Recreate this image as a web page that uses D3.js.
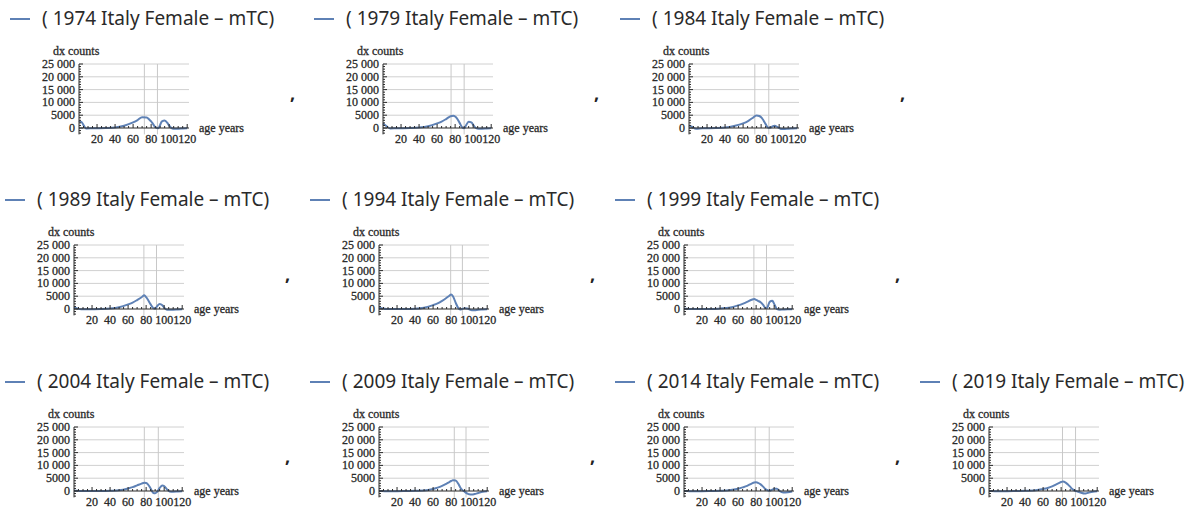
<!DOCTYPE html>
<html>
<head>
<meta charset="utf-8">
<script src="https://cdn.jsdelivr.net/npm/d3@7"></script>
<style>
  body { margin: 0; background: #fff; }
  svg { display: block; }
  .lab { stroke: #333; stroke-width: 0.3px; }
</style>
</head>
<body>
<svg id="chart" width="1190" height="510"></svg>
<script>
// ages shared by every series
const ages = [0, 3, 8, 15, 30, 40, 50, 60, 65, 70, 75, 78, 80, 82, 85, 88, 90, 92, 95, 98, 100, 103, 106, 110, 115, 120];

const years = [1974, 1979, 1984, 1989, 1994, 1999, 2004, 2009, 2014, 2019];

const dx1974 = [2800, 2200, -200, -100, 0, 200, 900, 2200, 3100, 4200, 4100, 3300, 2600, 1600, 200, -100, 1200, 2600, 2900, 2000, 900, -100, -300, -300, -200, -100];
const dx1979 = [1800, 1000, -200, -100, 0, 200, 700, 1800, 2500, 3500, 4600, 4800, 4500, 3800, 2000, 200, -100, 1000, 2400, 2200, 1200, 0, -300, -300, -200, -100];
const dx1984 = [1000, 500, -300, -100, 0, 200, 800, 1800, 2600, 3800, 4900, 4700, 4200, 3300, 1500, 100, 100, 500, 900, 400, 0, -400, -400, -300, -200, -100];
const dx1989 = [600, 300, -100, -100, 0, 200, 700, 1800, 2500, 3500, 4600, 5400, 4600, 3600, 1800, 300, 100, 1000, 2000, 1500, 500, -300, -300, -300, -200, -100];
const dx1994 = [500, 300, 0, 0, 0, 100, 500, 1500, 2200, 3200, 4400, 5200, 5700, 5000, 2500, 300, -200, 0, 300, 200, -100, -500, -500, -300, -200, -100];
const dx1999 = [200, 100, 0, 0, 0, 200, 500, 1400, 2000, 2800, 3600, 3900, 3600, 3200, 2600, 1500, 500, 400, 2800, 3200, 2000, 0, -300, -200, -100, -100];
const dx2004 = [200, 100, 0, 0, 0, 100, 300, 1000, 1500, 2200, 2900, 3200, 3100, 2600, 1000, -800, -900, -400, 1200, 2100, 1900, 700, -200, -300, -200, -100];
const dx2009 = [100, 0, -100, -100, 0, 100, 200, 800, 1300, 2000, 2900, 3500, 3900, 4200, 4100, 2800, 1500, 500, -300, -1000, -1300, -1400, -1200, -800, -300, -100];
const dx2014 = [100, 0, -100, -100, 0, 100, 300, 900, 1400, 2000, 2900, 3300, 3400, 3200, 2600, 1600, 900, 400, 100, 500, 900, 900, 0, -600, -500, -200];
const dx2019 = [100, 0, -100, -100, 0, 100, 200, 800, 1200, 1800, 2700, 3200, 3500, 3700, 3300, 2400, 1700, 900, 200, -200, -400, -800, -1000, -700, -300, -100];

const series = [dx1974, dx1979, dx1984, dx1989, dx1994, dx1999, dx2004, dx2009, dx2014, dx2019];

// the two vertical grid lines drawn in each panel (ages)
const gridA = [72.5, 75.5, 73, 77.5, 79.5, 77.5, 78, 83.5, 79, 81.5];
const gridB = [87, 90, 88.5, 91.5, 92.5, 91.5, 93.5, 96.5, 94.5, 96];

const yTicks = [0, 5000, 10000, 15000, 20000, 25000];
const xTicks = [20, 40, 60, 80, 100, 120];

// panel placement: row, column
const panelRow = [0, 0, 0, 1, 1, 1, 2, 2, 2, 2];
const panelCol = [0, 1, 2, 0, 1, 2, 0, 1, 2, 3];

const rowTop = [64, 245, 427];
const axisXRow0 = [79, 383, 689];
const axisXRest = [74, 379, 684, 989];

const blue = "#5e81b5";
const ink = "#2b2b2b";
const serif = "'Liberation Serif', serif";
const sans = "'Noto Sans', sans-serif";
const svg = d3.select("#chart");

const fmt = v => v >= 10000 ? String(v).replace(/(\d{2})(\d{3})$/, "$1 $2") : String(v);

years.forEach((yr, i) => {
  const r = panelRow[i], c = panelCol[i];
  const ax = r === 0 ? axisXRow0[c] : axisXRest[c];
  const top = rowTop[r];

  const x = d3.scaleLinear().domain([0, 122]).range([ax, ax + 110]);
  const y = d3.scaleLinear().domain([-2500, 25000]).range([top + 70.4, top]);

  const g = svg.append("g");

  // title legend
  const tx = ax - 69;
  const ty = top - 39;
  g.append("line")
    .attr("x1", tx).attr("x2", tx + 20)
    .attr("y1", ty - 6).attr("y2", ty - 6)
    .attr("stroke", blue).attr("stroke-width", 2);
  g.append("text")
    .attr("x", tx + 32).attr("y", ty)
    .attr("font-family", sans)
    .attr("font-size", 19)
    .attr("fill", "#2a2a2a")
    .text(`( ${yr} Italy Female – mTC)`);

  // grid
  g.selectAll(".hg").data(yTicks.filter(d => d > 0)).join("line")
    .attr("x1", x(0)).attr("x2", x(122))
    .attr("y1", d => y(d)).attr("y2", d => y(d))
    .attr("stroke", "#d0d0d0").attr("stroke-width", 1);
  [gridA[i], gridB[i]].forEach(a => {
    g.append("line")
      .attr("x1", x(a)).attr("x2", x(a))
      .attr("y1", y(25000)).attr("y2", y(-2500))
      .attr("stroke", "#c8c8c8").attr("stroke-width", 1);
  });

  // curve
  const pts = ages.map((a, k) => [a, series[i][k]]);
  g.append("path")
    .datum(pts)
    .attr("fill", "none")
    .attr("stroke", blue)
    .attr("stroke-width", 2)
    .attr("d", d3.line().x(d => x(d[0])).y(d => y(d[1])).curve(d3.curveMonotoneX));

  // y axis
  g.append("line")
    .attr("x1", ax).attr("x2", ax)
    .attr("y1", y(25000)).attr("y2", y(-2500))
    .attr("stroke", ink);
  g.selectAll(".ymin").data(d3.range(-2000, 25001, 1000)).join("line")
    .attr("x1", ax).attr("x2", d => ax + (d % 5000 === 0 ? 4 : 2))
    .attr("y1", d => y(d)).attr("y2", d => y(d))
    .attr("stroke", ink);
  g.selectAll(".ylab").data(yTicks).join("text")
    .attr("class", "lab")
    .attr("x", ax - 4).attr("y", d => y(d) + 4)
    .attr("text-anchor", "end")
    .attr("font-family", serif)
    .attr("font-size", 12)
    .attr("fill", "#222")
    .text(fmt);

  // x axis
  g.append("line")
    .attr("x1", ax).attr("x2", x(122))
    .attr("y1", y(0)).attr("y2", y(0))
    .attr("stroke", ink);
  g.selectAll(".xmin").data(d3.range(5, 121, 5)).join("line")
    .attr("x1", d => x(d)).attr("x2", d => x(d))
    .attr("y1", y(0)).attr("y2", d => y(0) - (d % 20 === 0 ? 4 : 2))
    .attr("stroke", ink);
  g.selectAll(".xlab").data(xTicks).join("text")
    .attr("class", "lab")
    .attr("x", d => x(d)).attr("y", y(0) + 15)
    .attr("text-anchor", "middle")
    .attr("font-family", serif)
    .attr("font-size", 12)
    .attr("fill", "#222")
    .text(d => d);

  // axis labels
  g.append("text")
    .attr("class", "lab")
    .attr("x", ax - 26).attr("y", top - 9)
    .attr("font-family", serif)
    .attr("font-size", 12)
    .attr("fill", "#222")
    .text("dx counts");
  g.append("text")
    .attr("class", "lab")
    .attr("x", ax + 120).attr("y", y(0) + 4)
    .attr("font-family", serif)
    .attr("font-size", 12)
    .attr("fill", "#222")
    .text("age years");

  // separator comma after every panel except the last one
  if (i !== 9) {
    g.append("text")
      .attr("x", ax + 211).attr("y", top + 36)
      .attr("font-family", sans)
      .attr("font-size", 18)
      .attr("font-weight", "bold")
      .attr("fill", "#222")
      .text(",");
  }
});
</script>
</body>
</html>
